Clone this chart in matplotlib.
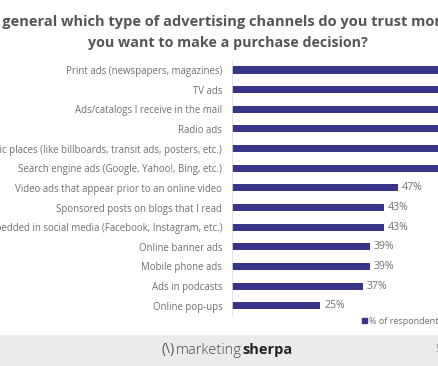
import matplotlib.pyplot as plt
from matplotlib.patches import Rectangle
from matplotlib.lines import Line2D

plt.rcParams['font.family'] = ['Open Sans', 'DejaVu Sans']

# survey answers, top to bottom
channels = [
    'Print ads (newspapers, magazines)',
    'TV ads',
    'Ads/catalogs I receive in the mail',
    'Radio ads',
    'Ads in public places (like billboards, transit ads, posters, etc.)',
    'Search engine ads (Google, Yahoo!, Bing, etc.)',
    'Video ads that appear prior to an online video',
    'Sponsored posts on blogs that I read',
    'Ads embedded in social media (Facebook, Instagram, etc.)',
    'Online banner ads',
    'Mobile phone ads',
    'Ads in podcasts',
    'Online pop-ups',
]
pct = [82, 80, 76, 71, 71, 61, 47, 43, 43, 39, 39, 37, 25]

bar_color = '#38358a'
text_gray = '#707070'

fig = plt.figure(figsize=(4.38, 3.66), dpi=100)
fig.patch.set_facecolor('white')

# axes deliberately runs past the right edge (the reference is a crop)
ax = fig.add_axes([232 / 438, 1 - 315.6 / 366, 353 / 438, 255.4 / 366])
ypos = range(len(channels))
bars = ax.barh(ypos, pct, height=0.36, color=bar_color)
ax.set_xlim(0, 100)
ax.set_ylim(len(channels) - 0.5, -0.5)
ax.set_yticks(list(ypos))
ax.set_yticklabels(channels, fontsize=6.9, color=text_gray)
ax.tick_params(axis='y', length=0, pad=7)
ax.set_xticks([])
for s in ['top', 'right', 'bottom']:
    ax.spines[s].set_visible(False)
ax.spines['left'].set_color('#e2e2e2')
ax.spines['left'].set_linewidth(0.6)
ax.bar_label(bars, labels=[f'{v}%' for v in pct], padding=3,
             fontsize=7.6, color=text_gray)

# legend
handle = Line2D([], [], marker='s', linestyle='none', color=bar_color, markersize=3.6)
fig.legend([handle], ['% of respondents'], loc='center left',
           bbox_to_anchor=(355 / 438, 1 - 321 / 366), frameon=False,
           fontsize=6.5, labelcolor=text_gray, handletextpad=0.1,
           borderpad=0, handlelength=1)

# title (also cut at the sides in the reference)
fig.text(0.545, 1 - 22 / 366,
         'In general which type of advertising channels do you trust more when',
         ha='center', va='center', fontsize=10.5, fontweight='bold', color='#555555')
fig.text(0.52, 1 - 43 / 366, 'you want to make a purchase decision?',
         ha='center', va='center', fontsize=10.3, fontweight='bold', color='#555555')

# footer band with logo
fig.patches.append(Rectangle((0, 0), 1, 31 / 366, transform=fig.transFigure,
                             facecolor='#ebebeb', edgecolor='none', zorder=0))
fig.text(242 / 438, 1 - 350 / 366, 'marketing', ha='right', va='center',
         fontsize=10.5, fontweight='light', color='#4a4a4a')
fig.text(242 / 438, 1 - 350 / 366, 'sherpa', ha='left', va='center',
         fontsize=10.5, fontweight='bold', color='#222222')
fig.text(162 / 438, 1 - 350 / 366, '(\\)', ha='left', va='center',
         fontsize=10, color='#555555')
fig.text(435 / 438, 1 - 350 / 366, '5', ha='left', va='center',
         fontsize=7, color='#888888')

fig.savefig('out.png', dpi=100)
